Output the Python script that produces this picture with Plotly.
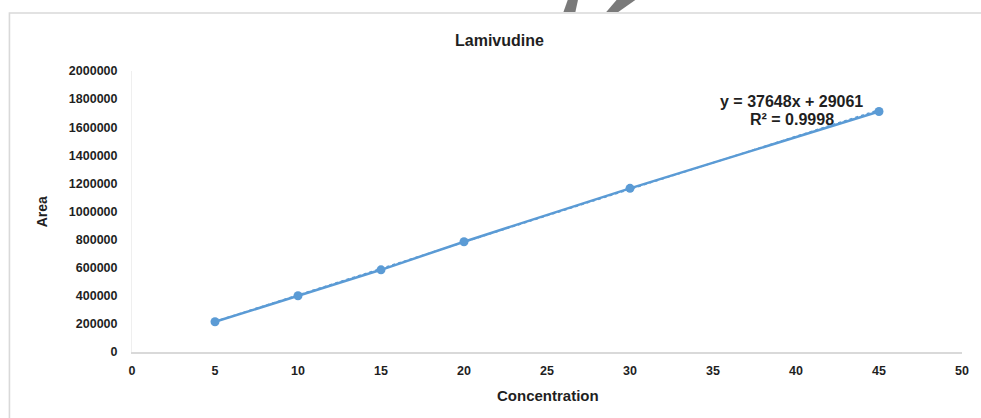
import plotly.graph_objects as go

concentration = [5, 10, 15, 20, 30, 45]
area = [215000, 400000, 585000, 785000, 1165000, 1712000]
slope = 37648
intercept = 29061
r_squared = 0.9998
x_ticks = [0, 5, 10, 15, 20, 25, 30, 35, 40, 45, 50]
y_ticks = [0, 200000, 400000, 600000, 800000, 1000000, 1200000, 1400000, 1600000, 1800000, 2000000]

W, H = 981, 418
L, R, T, B = 132, 16, 71, 66
pw, ph = W - L - R, H - T - B

def px(x):
    return (x - L) / pw

def py(y):
    return (H - B - y) / ph

FONT = "Liberation Sans, Arial, sans-serif"
blue = "#5B9BD5"
ink = "#1f1f1f"

fig = go.Figure()
trend_x = [concentration[0], concentration[-1]]
trend_y = [slope * v + intercept for v in trend_x]
fig.add_trace(go.Scatter(x=concentration, y=area, mode="lines+markers",
                         line=dict(color=blue, width=2.5),
                         marker=dict(color=blue, size=9), showlegend=False, cliponaxis=False))
fig.add_trace(go.Scatter(x=trend_x, y=trend_y, mode="lines",
                         line=dict(color=blue, width=1.5, dash="dot"), showlegend=False))

def wm_path(points):
    return "M " + " L ".join(f"{px(a):.5f},{py(b):.5f}" for a, b in points) + " Z"

def label(text, x, y, size, angle=0):
    return dict(text=f"<b>{text}</b>", xref="paper", yref="paper", x=px(x), y=py(y),
                xanchor="center", yanchor="middle", textangle=angle,
                showarrow=False, font=dict(family=FONT, size=size, color=ink))

fig.update_layout(
    width=W, height=H,
    margin=dict(l=L, r=R, t=T, b=B),
    paper_bgcolor="white", plot_bgcolor="white",
    font=dict(family=FONT, size=13, color=ink),
    xaxis=dict(range=[0, 50], tickvals=x_ticks, showgrid=False, zeroline=False,
               showline=True, linecolor="#D9D9D9", linewidth=1.5, ticks="",
               tickfont=dict(family=FONT, size=12.5, color=ink, weight="bold"), ticklabelstandoff=6),
    yaxis=dict(range=[0, 2000000], tickvals=y_ticks, showgrid=False, zeroline=False,
               showline=True, linecolor="#EFEFEF", linewidth=1, ticks="", tickformat="d",
               tickfont=dict(family=FONT, size=12.5, color=ink, weight="bold"), ticklabelstandoff=11),
    shapes=[
        dict(type="rect", xref="paper", yref="paper",
             x0=px(9), x1=px(995), y0=py(440), y1=py(13),
             line=dict(color="#D9D9D9", width=1.6), fillcolor="rgba(0,0,0,0)", layer="below"),
        dict(type="path", xref="paper", yref="paper", path=wm_path([(570, -2), (580, -2), (577, 12), (565, 12)]),
             fillcolor="#7a7a7a", line=dict(width=0)),
        dict(type="path", xref="paper", yref="paper", path=wm_path([(620, -2), (640, -2), (620, 12), (608, 12)]),
             fillcolor="#7a7a7a", line=dict(width=0)),
    ],
    annotations=[
        label("Lamivudine", 501, 40, 16),
        label("Concentration", 550, 395, 15),
        label("Area", 42, 212, 14, -90),
        label(f"y = {slope}x + {intercept}", 794, 101, 16),
        label(f"R² = {r_squared}", 794, 119, 16),
    ],
)

fig.write_html("out.html", config={"displayModeBar": False},
               post_script="document.body.style.margin='0px';")
